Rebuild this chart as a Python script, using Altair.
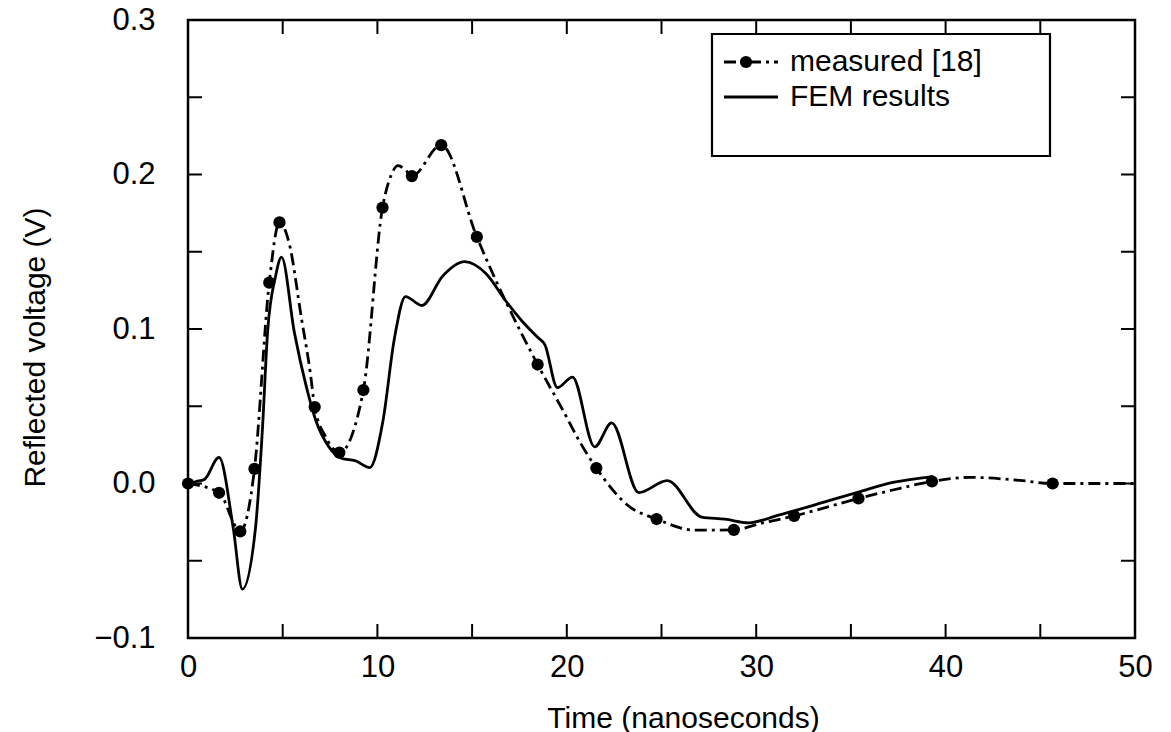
import altair as alt
import pandas as pd

# ---- data ----
# measured markers (time in ns, reflected voltage in V)
measured_t = [0.0, 1.64, 2.76, 3.51, 4.29, 4.83, 6.69, 7.99, 9.26, 10.27, 11.82,
              13.37, 15.25, 18.46, 21.56, 24.74, 28.82, 32.0, 35.4, 39.28, 45.65]
measured_v = [0.0, -0.006, -0.031, 0.0095, 0.130, 0.169, 0.0495, 0.020, 0.0605,
              0.1786, 0.199, 0.219, 0.1596, 0.077, 0.010, -0.023, -0.030, -0.021,
              -0.0097, 0.0013, 0.0]

# measured curve (dash-dot) traced through the markers
curve_t = [0.0, 1.64, 2.76, 3.51, 4.29, 4.83, 5.34, 5.99, 6.46, 6.69, 7.27, 7.99,
           9.26, 10.27, 10.72, 11.09, 11.44, 11.82, 13.37, 15.25, 18.46, 19.83,
           20.68, 21.56, 23.25, 24.74, 26.75, 28.82, 30.29, 32.0, 35.4, 37.21,
           39.28, 41.28, 43.92, 45.65, 48.5, 50.0]
curve_v = [0.0, -0.006, -0.031, 0.0095, 0.130, 0.169, 0.1556, 0.1069, 0.0715,
           0.0495, 0.0302, 0.020, 0.0605, 0.1786, 0.1994, 0.2057, 0.2035, 0.199,
           0.219, 0.1596, 0.077, 0.0466, 0.0271, 0.010, -0.0144, -0.023, -0.0302,
           -0.030, -0.0257, -0.021, -0.0097, -0.0042, 0.0013, 0.004, 0.002, 0.0,
           0.0, 0.0]

# FEM results (solid)
fem_t = [0.0, 0.43, 0.86, 1.64, 2.39, 2.87, 3.56, 3.93, 4.2, 4.62, 4.94, 5.62,
         6.25, 6.74, 7.44, 8.13, 8.82, 9.6, 10.29, 10.9, 11.48, 12.35, 13.44,
         14.6, 15.74, 16.77, 17.63, 18.49, 18.84, 19.5, 20.3, 21.47, 22.37, 23.8,
         25.3, 27.12, 28.35, 29.59, 31.18, 33.49, 35.44, 37.22, 39.34]
fem_v = [0.0, 0.0013, 0.0026, 0.0169, -0.0289, -0.0684, -0.0292, 0.0353, 0.0976,
         0.134, 0.1465, 0.0975, 0.0625, 0.0411, 0.0237, 0.0162, 0.0148, 0.0103,
         0.0403, 0.094, 0.121, 0.1152, 0.1342, 0.1436, 0.1358, 0.1183, 0.1052,
         0.0943, 0.0899, 0.062, 0.0689, 0.0237, 0.0392, -0.0059, 0.0019, -0.0217,
         -0.0231, -0.0255, -0.0205, -0.0124, -0.0054, 0.0007, 0.0045]

x_labels = [0, 10, 20, 30, 40, 50]
y_labels = [-0.1, 0.0, 0.1, 0.2, 0.3]
x_minor = [5, 10, 15, 20, 25, 30, 35, 40, 45]
y_minor = [-0.05, 0.0, 0.05, 0.1, 0.15, 0.2, 0.25]

legend_labels = ["measured [18]", "FEM results"]

# ---- chart ----
W, H = 947, 618
FONT = "Liberation Sans"
xs = alt.Scale(domain=[0, 50], nice=False, zero=False)
ys = alt.Scale(domain=[-0.1, 0.3], nice=False, zero=False)
DASH = [12, 5, 3, 5]
MS = 150

x_axis = alt.Axis(values=x_labels, format="d", ticks=False, domain=False, grid=False,
                  labelFont=FONT, labelFontSize=31, labelColor="black",
                  labelPadding=14, labelFlush=False,
                  title="Time (nanoseconds)", titleFont=FONT, titleFontSize=30,
                  titleFontWeight="normal", titleColor="black",
                  titleX=495, titleY=80, titleBaseline="middle", titleAlign="center")
y_axis = alt.Axis(values=y_labels, format=".1f", ticks=False, domain=False, grid=False,
                  labelFont=FONT, labelFontSize=31, labelColor="black",
                  labelPadding=33,
                  title="Reflected voltage (V)", titleFont=FONT, titleFontSize=30,
                  titleFontWeight="normal", titleColor="black",
                  titleX=-153, titleY=327, titleAngle=270,
                  titleBaseline="middle", titleAlign="center")

fem_df = pd.DataFrame({"t": fem_t, "v": fem_v})
curve_df = pd.DataFrame({"t": curve_t, "v": curve_v})
pts_df = pd.DataFrame({"t": measured_t, "v": measured_v})

fem = alt.Chart(fem_df).mark_line(color="black", strokeWidth=2.8,
                                  interpolate="monotone").encode(
    x=alt.X("t:Q", scale=xs, axis=x_axis),
    y=alt.Y("v:Q", scale=ys, axis=y_axis))

meas = alt.Chart(curve_df).mark_line(color="black", strokeWidth=2.8, strokeDash=DASH,
                                     interpolate="monotone").encode(
    x=alt.X("t:Q", scale=xs), y=alt.Y("v:Q", scale=ys))

pts = alt.Chart(pts_df).mark_point(filled=True, color="black", size=MS,
                                   opacity=1).encode(
    x=alt.X("t:Q", scale=xs), y=alt.Y("v:Q", scale=ys))

xt_df = pd.DataFrame({"t": x_minor})
yt_df = pd.DataFrame({"v": y_minor})
tick_style = dict(color="black", thickness=2, size=14, opacity=1)
bottom_ticks = alt.Chart(xt_df).mark_tick(orient="vertical", **tick_style).encode(
    x=alt.X("t:Q", scale=xs), y=alt.value(H - 7))
top_ticks = alt.Chart(xt_df).mark_tick(orient="vertical", **tick_style).encode(
    x=alt.X("t:Q", scale=xs), y=alt.value(7))
left_ticks = alt.Chart(yt_df).mark_tick(orient="horizontal", **tick_style).encode(
    y=alt.Y("v:Q", scale=ys), x=alt.value(7))
right_ticks = alt.Chart(yt_df).mark_tick(orient="horizontal", **tick_style).encode(
    y=alt.Y("v:Q", scale=ys), x=alt.value(W - 7))

# ---- legend box ----
one = pd.DataFrame({"k": [0]})
box = alt.Chart(one).mark_rect(fill="white", stroke="black", strokeWidth=2.2).encode(
    x=alt.value(524), x2=alt.value(862), y=alt.value(14), y2=alt.value(136))
leg_meas = alt.Chart(one).mark_rule(color="black", strokeWidth=2.8, strokeDash=DASH).encode(
    x=alt.value(536), x2=alt.value(590), y=alt.value(42))
leg_pt = alt.Chart(one).mark_point(filled=True, color="black", size=MS, opacity=1).encode(
    x=alt.value(558), y=alt.value(42))
leg_fem = alt.Chart(one).mark_rule(color="black", strokeWidth=2.8).encode(
    x=alt.value(536), x2=alt.value(590), y=alt.value(77))
txt_style = dict(align="left", baseline="middle", font=FONT, fontSize=30, color="black")
leg_t1 = alt.Chart(one).mark_text(**txt_style).encode(
    x=alt.value(602), y=alt.value(42), text=alt.value(legend_labels[0]))
leg_t2 = alt.Chart(one).mark_text(**txt_style).encode(
    x=alt.value(602), y=alt.value(77), text=alt.value(legend_labels[1]))

chart = alt.layer(
    fem, meas, pts, bottom_ticks, top_ticks, left_ticks, right_ticks,
    box, leg_meas, leg_pt, leg_fem, leg_t1, leg_t2
).properties(
    width=W, height=H,
    autosize=alt.AutoSizeParams(type="none"),
    padding={"left": 188, "top": 20, "right": 1171 - 188 - W, "bottom": 732 - 20 - H},
    background="white",
).configure_view(stroke="black", strokeWidth=2.5)

chart.save("out.html", embed_options={"renderer": "svg", "actions": False})
